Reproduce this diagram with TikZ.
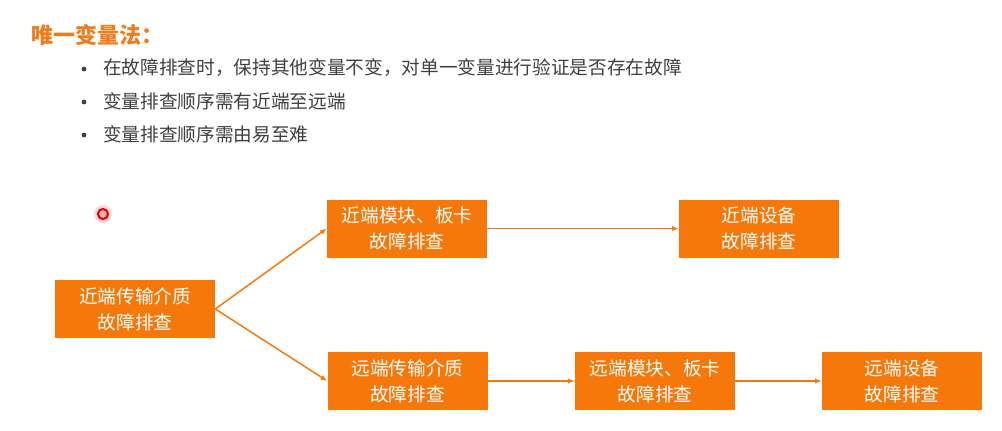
\documentclass[tikz,border=0pt]{standalone}
\usepackage{fontspec}
\setmainfont{Noto Sans CJK SC}
\usetikzlibrary{arrows.meta}
\definecolor{boxorange}{RGB}{246,120,10}
\definecolor{titleorange}{RGB}{240,124,30}
\definecolor{bodygray}{RGB}{64,64,64}
\tikzset{
  stepbox/.style={fill=boxorange, draw=none, text=white, align=center,
    minimum width=120pt, minimum height=43.5pt, inner sep=0pt,
    font=\fontsize{14}{19.5}\selectfont},
  flow/.style={draw=boxorange, line width=1.1pt, -{Latex[length=5pt,width=4pt]}},
  bullettext/.style={anchor=west, inner sep=0pt, text=bodygray, font=\fontsize{14}{16}\selectfont},
  bulletdot/.style={circle, fill=bodygray, draw=none, inner sep=0pt, minimum size=3.6pt}
}
\begin{document}
\begin{tikzpicture}[x=0.75pt,y=-0.75pt]
\useasboundingbox[fill=white] (0,0) rectangle (1002,430);
% title
\node[anchor=west, inner sep=0pt, text=titleorange, font=\fontsize{16.5}{18}\selectfont\bfseries] (title) at (31,35) {唯一变量法：};
% bullets
\node[bulletdot] (d1) at (84,69) {};
\node[bullettext] (t1) at (103,68) {在故障排查时，保持其他变量不变，对单一变量进行验证是否存在故障};
\node[bulletdot] (d2) at (84,102) {};
\node[bullettext] (t2) at (103,101) {变量排查顺序需有近端至远端};
\node[bulletdot] (d3) at (84,135) {};
\node[bullettext] (t3) at (103,134) {变量排查顺序需由易至难};
% pointer dot
\fill[red!15] (103,214) circle (9);
\fill[red!30] (103,214) circle (6.5);
\node[circle, draw=red!85!black, line width=1.4pt, minimum size=7.5pt, inner sep=0pt] (dot) at (103,214) {};
% boxes
\node[stepbox] (A) at (135,309) {近端传输介质\\故障排查};
\node[stepbox] (B) at (407,228.5) {近端模块、板卡\\故障排查};
\node[stepbox] (C) at (759,228.5) {近端设备\\故障排查};
\node[stepbox] (D) at (407.5,381) {远端传输介质\\故障排查};
\node[stepbox] (E) at (655,381) {远端模块、板卡\\故障排查};
\node[stepbox] (F) at (902,381) {远端设备\\故障排查};
% connectors
\draw[flow] (A.east) -- (B.west);
\draw[flow] (A.east) -- (D.west);
\draw[flow] (B.east) -- (C.west);
\draw[flow] (D.east) -- (E.west);
\draw[flow] (E.east) -- (F.west);
\end{tikzpicture}
\end{document}
